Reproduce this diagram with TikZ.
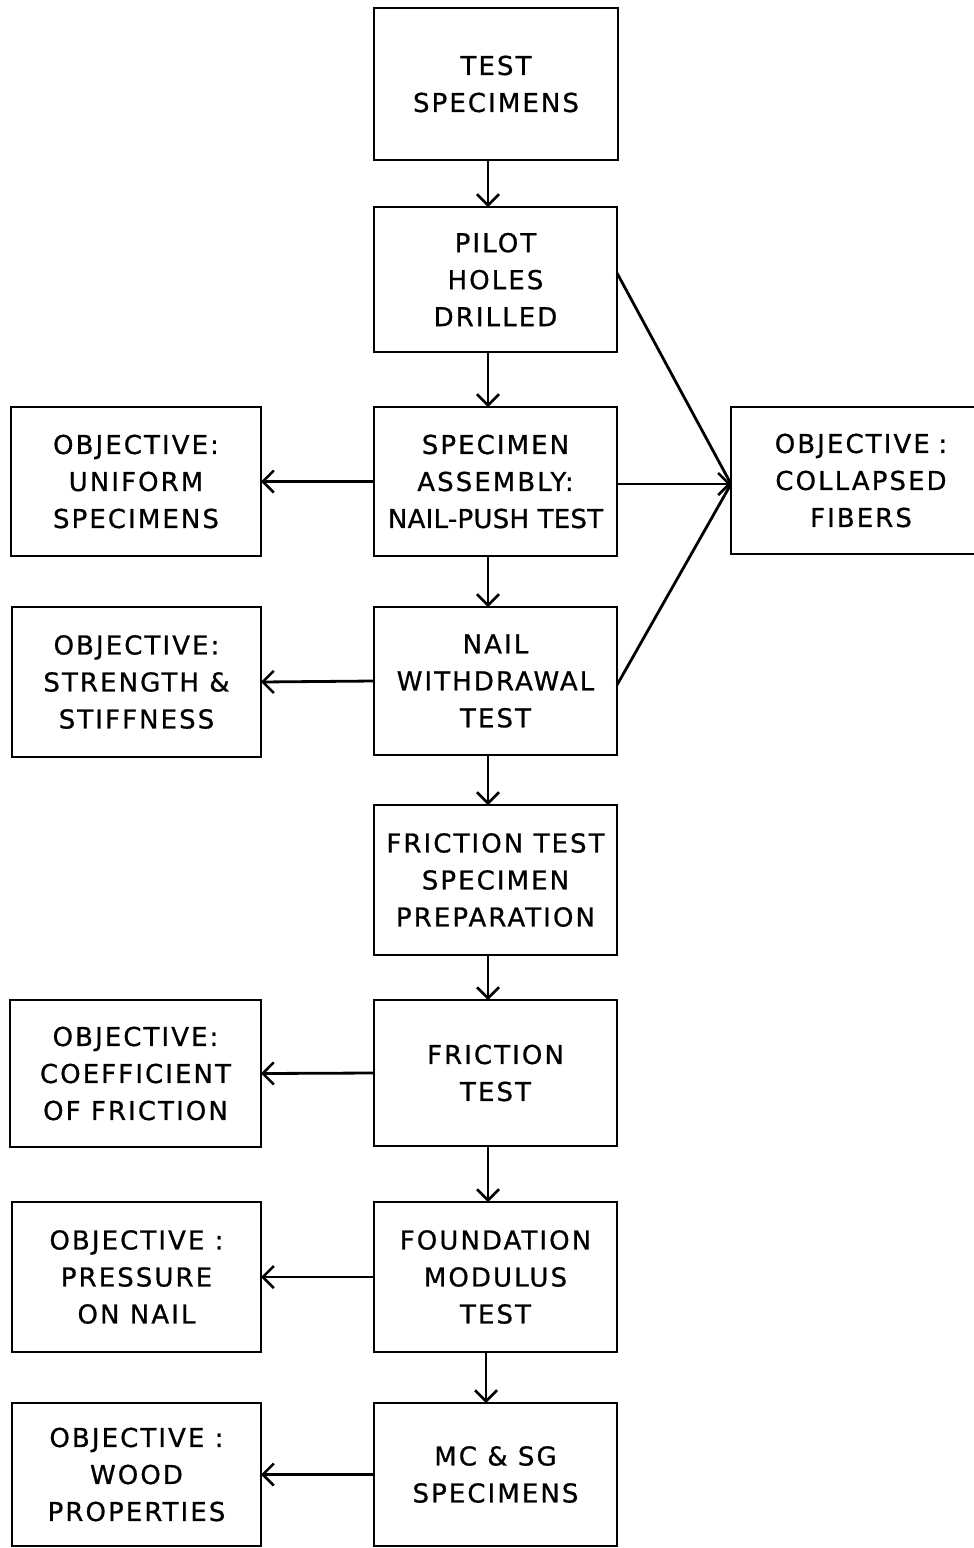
\documentclass[tikz,border=0pt]{standalone}
\usepackage{fontspec}
\setmainfont{DejaVu Sans}[LetterSpace=8,FakeBold=0.8]
\newfontfamily\tightfont{DejaVu Sans}[LetterSpace=1,FakeBold=0.8]
\usetikzlibrary{arrows.meta}
\tikzset{
  box/.style={draw, line width=2.8pt, inner sep=0pt, outer sep=0pt, align=center,
    font=\fontsize{26}{37}\selectfont},
  arr/.style={line width=2.8pt, -{Straight Barb[length=11pt,width=22pt,line width=2.5pt]}},
  ln/.style={line width=2.8pt}
}
\newcommand{\bx}[7]{% name, x1, y1, x2, y2, text, extra
  \node[box, minimum width={(#4-#2)*1pt}, minimum height={(#5-#3)*1pt}, #7] (#1) at ({(#2+#4)/2},{(#3+#5)/2}) {#6};}
\begin{document}
\begin{tikzpicture}[x=1pt,y=-1pt]
\clip (0,0) rectangle (974,1548);
\fill[white] (0,0) rectangle (974,1548);
% middle column
\bx{test}{374}{8}{618}{160}{TEST\\SPECIMENS}{}
\bx{pilot}{374}{207}{617}{352}{PILOT\\HOLES\\DRILLED}{}
\bx{asm}{374}{407}{617}{556}{SPECIMEN\\ASSEMBLY:\\{\tightfont NAIL-PUSH TEST}}{}
\bx{nail}{374}{607}{617}{755}{NAIL\\WITHDRAWAL\\TEST}{}
\bx{prep}{374}{805}{617}{955}{FRICTION TEST\\SPECIMEN\\PREPARATION}{}
\bx{fric}{374}{1000}{617}{1146}{FRICTION\\TEST}{}
\bx{found}{374}{1202}{617}{1352}{FOUNDATION\\MODULUS\\TEST}{}
\bx{mc}{374}{1403}{617}{1546}{MC \& SG\\SPECIMENS}{}
% left column
\bx{unif}{11}{407}{261}{556}{OBJECTIVE:\\UNIFORM\\SPECIMENS}{}
\bx{str}{12}{607}{261}{757}{OBJECTIVE:\\STRENGTH \&\\STIFFNESS}{}
\bx{coef}{10}{1000}{261}{1147}{OBJECTIVE:\\COEFFICIENT\\OF FRICTION}{}
\bx{press}{12}{1202}{261}{1352}{OBJECTIVE :\\PRESSURE\\ON NAIL}{}
\bx{wood}{12}{1403}{261}{1546}{OBJECTIVE :\\WOOD\\PROPERTIES}{}
% right
\node[box, minimum width=260pt, minimum height=147pt, anchor=north west, text width=243pt] (coll) at (731,407) {OBJECTIVE :\\COLLAPSED\\FIBERS};
% vertical arrows
\coordinate (vx) at (488,0);
\coordinate (vy) at (486,0);
\draw[arr] (test.south -| vx) -- (pilot.north -| vx);
\draw[arr] (pilot.south -| vx) -- (asm.north -| vx);
\draw[arr] (asm.south -| vx) -- (nail.north -| vx);
\draw[arr] (nail.south -| vx) -- (prep.north -| vx);
\draw[arr] (prep.south -| vx) -- (fric.north -| vx);
\draw[arr] (fric.south -| vx) -- (found.north -| vx);
\draw[arr] (found.south -| vy) -- (mc.north -| vy);
% left arrows
\draw[arr] (asm.west) -- (unif.east);
\draw[arr] (nail.west) -- (str.east);
\draw[arr] (fric.west) -- (coef.east);
\draw[arr] (found.west) -- (press.east);
\draw[arr] (mc.west) -- (wood.east);
% to collapsed fibers
\coordinate (ctip) at (731,484);
\coordinate (pa) at (0,273);
\coordinate (na) at (0,685);
\draw[ln] (pilot.east |- pa) -- (ctip);
\draw[ln] (nail.east |- na) -- (ctip);
\draw[arr] (asm.east |- ctip) -- (ctip);
\end{tikzpicture}
\end{document}
